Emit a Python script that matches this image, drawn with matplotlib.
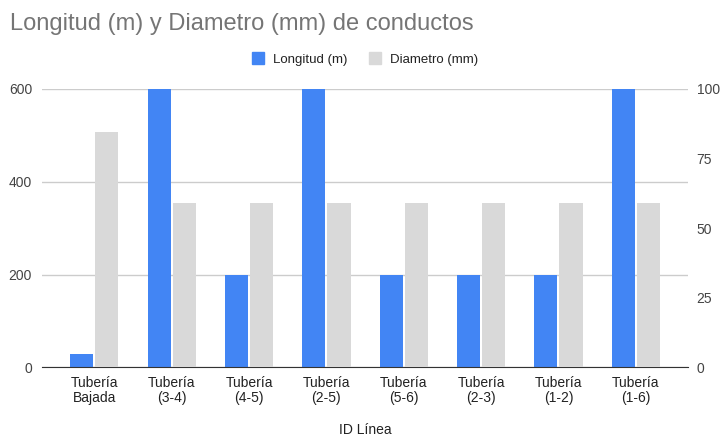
import numpy as np
import matplotlib.pyplot as plt
from matplotlib.patches import Patch

plt.rcParams['font.family'] = ['Liberation Sans', 'DejaVu Sans']

tuberias = ["Tubería\nBajada", "Tubería\n(3-4)", "Tubería\n(4-5)", "Tubería\n(2-5)",
            "Tubería\n(5-6)", "Tubería\n(2-3)", "Tubería\n(1-2)", "Tubería\n(1-6)"]
longitud = [28, 600, 200, 600, 200, 200, 200, 600]
diametro = [84.4, 58.9, 58.9, 58.9, 58.9, 58.9, 58.9, 58.9]

azul = "#4285F4"
gris = "#D9D9D9"

fig = plt.figure(figsize=(7.2, 4.37), dpi=100)
ax = fig.add_axes([0.058, 0.1595, 0.898, 0.637])
ax2 = ax.twinx()

x = np.arange(len(tuberias))
w = 0.30
ax.bar(x - 0.162, longitud, w, color=azul, zorder=3)
ax2.bar(x + 0.162, diametro, w, color=gris, zorder=3)

ax.set_xlim(-0.68, 7.68)
ax.set_ylim(0, 600)
ax2.set_ylim(0, 100)
ax.set_yticks([0, 200, 400, 600])
ax2.set_yticks([0, 25, 50, 75, 100])
ax.set_xticks(x)
ax.set_xticklabels(tuberias, fontsize=10, color="#222222", linespacing=1.12)

ax.grid(axis="y", color="#cccccc", linewidth=1, zorder=0)
ax.set_axisbelow(True)
for a in (ax, ax2):
    for s in a.spines.values():
        s.set_visible(False)
    a.tick_params(length=0, labelsize=10, labelcolor="#444444")
ax.tick_params(axis="x", pad=6, labelcolor="#222222")
ax.tick_params(axis="y", pad=7)
ax2.tick_params(axis="y", pad=6)
ax.spines["bottom"].set_visible(True)
ax.spines["bottom"].set_color("#333333")
ax.spines["bottom"].set_zorder(4)

# eje x: etiqueta colocada a mano para que no se corte
fig.text(0.507, 0.017, "ID Línea", fontsize=10, color="#222222",
         ha="center", va="center")

fig.text(0.014, 0.944, "Longitud (m) y Diametro (mm) de conductos",
         fontsize=17, color="#757575", va="center", ha="left")

handles = [Patch(color=azul, label="Longitud (m)"), Patch(color=gris, label="Diametro (mm)")]
fig.legend(handles=handles, loc="center", bbox_to_anchor=(0.507, 0.865), ncol=2,
           frameon=False, fontsize=9.5, handlelength=0.9, handleheight=1.0,
           handletextpad=0.7, columnspacing=1.6, labelcolor="#222222")

fig.savefig("out.png", dpi=100)
